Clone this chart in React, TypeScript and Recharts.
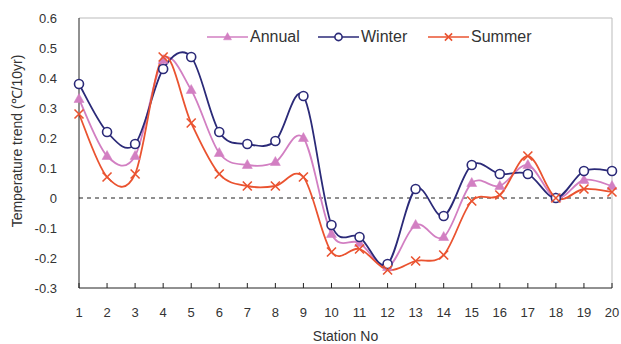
import { Line, LineChart, ReferenceLine, XAxis, YAxis } from "recharts";

const stations = [1, 2, 3, 4, 5, 6, 7, 8, 9, 10, 11, 12, 13, 14, 15, 16, 17, 18, 19, 20];
const annual = [0.33, 0.14, 0.14, 0.46, 0.36, 0.15, 0.11, 0.12, 0.2, -0.12, -0.15, -0.23, -0.09, -0.13, 0.05, 0.04, 0.11, 0, 0.06, 0.04];
const winter = [0.38, 0.22, 0.18, 0.43, 0.47, 0.22, 0.18, 0.19, 0.34, -0.09, -0.13, -0.22, 0.03, -0.06, 0.11, 0.08, 0.08, 0, 0.09, 0.09];
const summer = [0.28, 0.07, 0.08, 0.47, 0.25, 0.08, 0.04, 0.04, 0.07, -0.18, -0.17, -0.24, -0.21, -0.19, -0.01, 0.01, 0.14, 0, 0.03, 0.02];
const yTicks = [-0.3, -0.2, -0.1, 0, 0.1, 0.2, 0.3, 0.4, 0.5, 0.6];

const data = stations.map((s, i) => ({ station: s, annual: annual[i], winter: winter[i], summer: summer[i] }));

const ANNUAL = "#d27fc2";
const WINTER = "#2b2a78";
const SUMMER = "#ea5330";
const FONT = "'Liberation Sans', Arial, sans-serif";

// excel-like smoothed line (catmull-rom through the points)
const smooth = (context: any) => {
  let pts: number[][] = [];
  return {
    areaStart() {},
    areaEnd() {},
    lineStart() { pts = []; },
    point(x: number, y: number) { pts.push([+x, +y]); },
    lineEnd() {
      if (!pts.length) return;
      context.moveTo(pts[0][0], pts[0][1]);
      for (let i = 0; i < pts.length - 1; i++) {
        const p0 = pts[i - 1] || pts[i];
        const p1 = pts[i];
        const p2 = pts[i + 1];
        const p3 = pts[i + 2] || p2;
        context.bezierCurveTo(
          p1[0] + (p2[0] - p0[0]) / 6, p1[1] + (p2[1] - p0[1]) / 6,
          p2[0] - (p3[0] - p1[0]) / 6, p2[1] - (p3[1] - p1[1]) / 6,
          p2[0], p2[1]
        );
      }
    },
  };
};

function Triangle({ cx, cy, color, s = 1 }: { cx: number, cy: number, color: string, s?: number }) {
  return <path d={`M${cx},${cy - 5.5 * s}L${cx + 5 * s},${cy + 3.5 * s}L${cx - 5 * s},${cy + 3.5 * s}Z`} fill={color} stroke={color} strokeWidth={0.5} />;
}

function Circle({ cx, cy, color, s = 1 }: { cx: number, cy: number, color: string, s?: number }) {
  return <circle cx={cx} cy={cy} r={4.5 * s} fill="#fff" stroke={color} strokeWidth={1.6} />;
}

function Cross({ cx, cy, color, s = 1 }: { cx: number, cy: number, color: string, s?: number }) {
  const d = 4.5 * s;
  return <path d={`M${cx - d},${cy - d}L${cx + d},${cy + d}M${cx - d},${cy + d}L${cx + d},${cy - d}`} stroke={color} strokeWidth={1.6} fill="none" />;
}

function XTick({ x, y, payload }: any) {
  return (
    <g>
      <line x1={x} y1={y} x2={x} y2={y - 5} stroke="#222" strokeWidth={1} />
      <text x={x} y={y + 29} textAnchor="middle" fontSize={13} fill="#333" fontFamily={FONT}>{payload.value}</text>
    </g>
  );
}

const legendItems = [
  { name: "Annual", color: ANNUAL, Marker: Triangle, width: 68 },
  { name: "Winter", color: WINTER, Marker: Circle, width: 67 },
  { name: "Summer", color: SUMMER, Marker: Cross, width: 70 },
];

function ChartLegend() {
  return (
    <div style={{ position: "absolute", left: 207, top: 29, display: "flex", alignItems: "center", fontFamily: FONT, fontSize: 16, color: "#333", lineHeight: "16px" }}>
      {legendItems.map(({ name, color, Marker, width }) => (
        <div key={name} style={{ display: "flex", alignItems: "center" }}>
          <svg width={41} height={14}>
            <line x1={0} y1={7} x2={41} y2={7} stroke={color} strokeWidth={1.6} />
            <Marker cx={20.5} cy={7} color={color} s={0.8} />
          </svg>
          <span style={{ width, marginLeft: 2 }}>{name}</span>
        </div>
      ))}
    </div>
  );
}

export default function App() {
  return (
    <div style={{ position: "absolute", left: 0, top: 0, width: 621, height: 344, background: "#fff" }}>
      <LineChart data={data} width={621} height={344} margin={{ top: 18, right: 9, bottom: 0, left: 0 }}>
        <XAxis
          dataKey="station"
          type="number"
          domain={[1, 20]}
          ticks={stations}
          height={56}
          stroke="#222"
          tickLine={false}
          tickSize={0}
          tickMargin={0}
          tick={<XTick />}
          label={{ value: "Station No", position: "insideBottom", offset: 3, fill: "#333", fontSize: 14, fontFamily: FONT }}
        />
        <YAxis
          domain={[-0.3, 0.6]}
          ticks={yTicks}
          width={79}
          stroke="#222"
          tickLine={false}
          tickSize={0}
          tickMargin={22}
          interval={0}
          tick={{ fill: "#333", fontSize: 13, fontFamily: FONT }}
          tickFormatter={(v: number) => String(Math.round(v * 10) / 10)}
          label={{ value: "Temperature trend (℃/10yr)", angle: -90, position: "insideLeft", offset: 17, dy: -12, fill: "#333", fontSize: 14, fontFamily: FONT, style: { textAnchor: "middle" } }}
        />
        <ReferenceLine y={0.6} stroke="#bbb" />
        <ReferenceLine x={20} stroke="#bbb" />
        <ReferenceLine y={0} stroke="#222" strokeDasharray="4 4" strokeWidth={1.2} />
        <Line dataKey="annual" type={smooth as any} stroke={ANNUAL} strokeWidth={1.8} isAnimationActive={false}
          dot={(p: any) => <Triangle key={p.index} cx={p.cx} cy={p.cy} color={ANNUAL} />} />
        <Line dataKey="winter" type={smooth as any} stroke={WINTER} strokeWidth={1.8} isAnimationActive={false}
          dot={(p: any) => <Circle key={p.index} cx={p.cx} cy={p.cy} color={WINTER} />} />
        <Line dataKey="summer" type={smooth as any} stroke={SUMMER} strokeWidth={1.8} isAnimationActive={false}
          dot={(p: any) => <Cross key={p.index} cx={p.cx} cy={p.cy} color={SUMMER} />} />
      </LineChart>
      <ChartLegend />
    </div>
  );
}
